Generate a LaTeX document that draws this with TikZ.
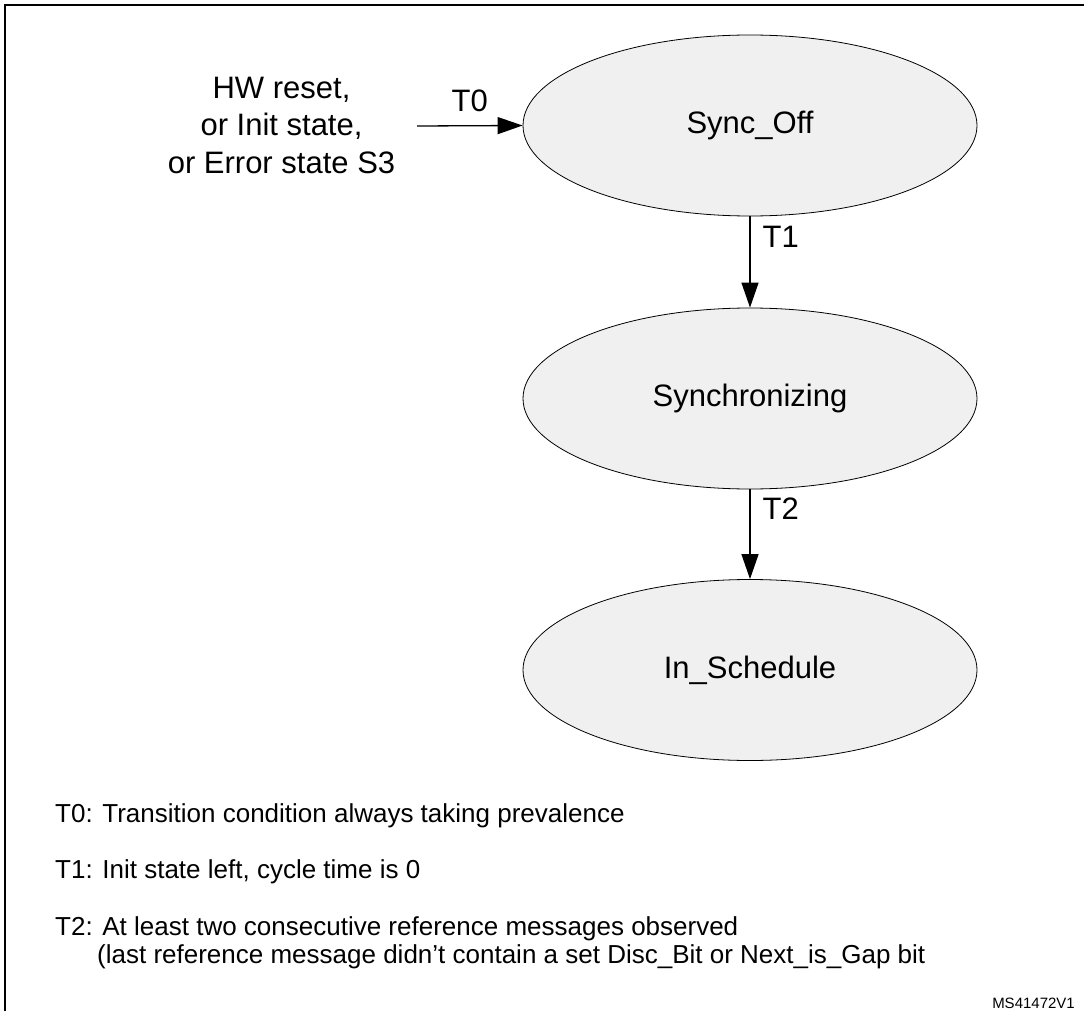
\documentclass[tikz,border=0pt]{standalone}
\usepackage{fontspec}
\setmainfont{Liberation Sans}
\usetikzlibrary{arrows.meta,shapes.geometric}
\definecolor{statefill}{HTML}{F0F0F0}
\begin{document}
\begin{tikzpicture}[x=1pt,y=-1pt,
  state/.style={ellipse,draw=black,line width=0.8pt,fill=statefill,minimum width=454pt,minimum height=181pt,inner sep=0pt,font=\fontsize{31}{37}\selectfont},
  flow/.style={draw=black,line width=1.3pt,-{Triangle[length=25pt,width=17pt]}},
  lbl/.style={font=\fontsize{31}{37.5}\selectfont,inner sep=0pt},
  note/.style={font=\fontsize{26}{30}\selectfont,inner sep=0pt,anchor=base west},
  frameline/.style={line width=2.5pt}]
\useasboundingbox (0,0) rectangle (1084,1011);
\draw[frameline] (5,1011) -- (5,5) -- (1084,5);

\node[state] (syncoff) at (750,125.5) {Sync\_Off};
\node[state] (synching) at (750,398.5) {Synchronizing};
\node[state] (insched) at (750,670) {In\_Schedule};

\node[lbl,align=center] (src) at (281.5,125) {HW reset,\\or Init state,\\or Error state S3};
\coordinate (t0start) at (417,126);

\draw[flow] (t0start) -- (syncoff.west) node[lbl,pos=0.5,above=13pt] (t0) {T0};
\draw[flow] (syncoff.south) -- (synching.north) node[lbl,pos=0.22,right=12pt] (t1) {T1};
\draw[flow] (synching.south) -- (insched.north) node[lbl,pos=0.22,right=12pt] (t2) {T2};

\node[note] (n0) at (55,822) {T0: Transition condition always taking prevalence};
\node[note] (n1) at (55,878) {T1: Init state left, cycle time is 0};
\node[note] (n2a) at (55,935) {T2: At least two consecutive reference messages observed};
\node[note] (n2b) at (97,963) {(last reference message didn’t contain a set Disc\_Bit or Next\_is\_Gap bit};
\node[font=\fontsize{15}{18}\selectfont,inner sep=0pt,anchor=base east] (ms) at (1075,1008) {MS41472V1};
\end{tikzpicture}
\end{document}
